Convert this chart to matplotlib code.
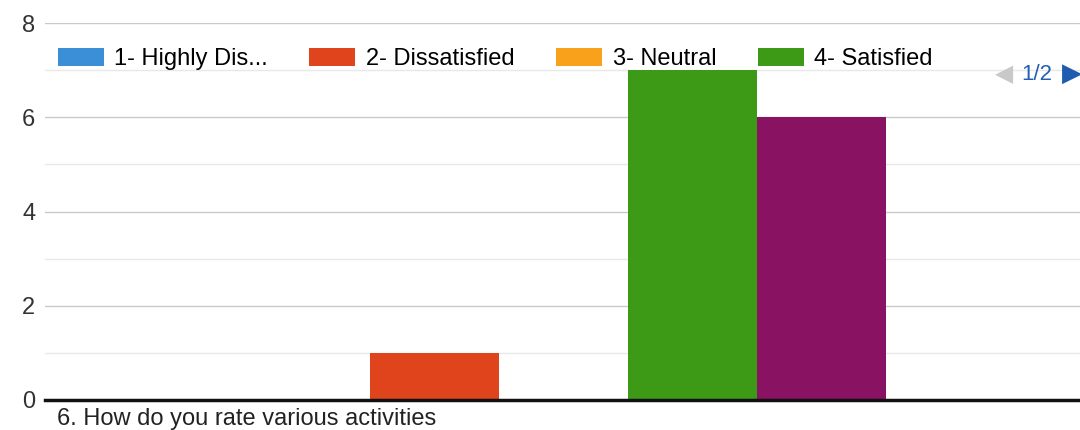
import numpy as np
import matplotlib.pyplot as plt
from matplotlib.patches import Patch

plt.rcParams['font.family'] = ['Liberation Sans', 'DejaVu Sans']

# Data
series = ['1- Highly Dis...', '2- Dissatisfied', '3- Neutral', '4- Satisfied', '5- Highly Satisfied']
counts = [0, 1, 0, 7, 6]
colors = ['#3b8fd6', '#e0441c', '#f9a11b', '#3c9a17', '#8a1262']
yticks = [0, 2, 4, 6, 8]
question = '6. How do you rate various activities'

fig = plt.figure(figsize=(10.8, 4.3), dpi=100)
ax = fig.add_axes([45/1080, 30/430, 1035/1080, 377/430])

x = np.arange(len(series)) - 2
ax.bar(x, counts, width=1.0, color=colors, zorder=3)

ax.set_xlim(-4.02, 4.0)
ax.set_ylim(0, 8)
ax.set_yticks(yticks)
ax.set_yticks([1, 3, 5, 7], minor=True)
ax.grid(axis='y', which='major', color='#cacaca', linewidth=1.0, zorder=0)
ax.grid(axis='y', which='minor', color='#e8e8e8', linewidth=1.0, zorder=0)
ax.tick_params(axis='y', which='both', length=0, pad=7, labelsize=17, labelcolor='#333333')
ax.tick_params(axis='x', which='both', bottom=False, labelbottom=False)
for s in ['top', 'right', 'left']:
    ax.spines[s].set_visible(False)
ax.spines['bottom'].set_linewidth(2.5)
ax.spines['bottom'].set_color('#111111')
ax.spines['bottom'].set_zorder(4)

# Legend (first page, 4 entries)
handles = [Patch(facecolor=c, edgecolor='none') for c in colors[:4]]
ax.legend(handles, series[:4], ncol=4, loc='center left',
          bbox_to_anchor=(0.003, 0.905), frameon=False, fontsize=17,
          handlelength=1.95, handleheight=0.85, handletextpad=0.45,
          columnspacing=1.75, borderaxespad=0)

# Legend paging
fig.text(1004/1080, 1 - 74/430, '\u25c0', color='#c9c9c9', fontsize=17,
         ha='center', va='center', family=['DejaVu Sans'])
fig.text(1037/1080, 1 - 74/430, '1/2', color='#2360b5', fontsize=16,
         ha='center', va='center')
fig.text(1072/1080, 1 - 74/430, '\u25b6', color='#1f5cb0', fontsize=19,
         ha='center', va='center', family=['DejaVu Sans'])

# Question title
fig.text(57/1080, 1 - 425/430, question, fontsize=17, color='#222222',
         ha='left', va='baseline')

plt.savefig('out.png', dpi=100)
